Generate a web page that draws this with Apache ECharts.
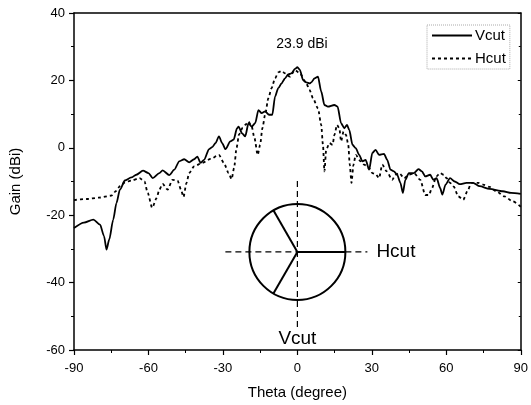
<!DOCTYPE html>
<html><head><meta charset="utf-8">
<script src="https://cdn.jsdelivr.net/npm/echarts@6/dist/echarts.min.js"></script>
<style>html,body{margin:0;padding:0;background:#fff}#c{width:531px;height:405px}</style>
</head><body><div id="c"></div>
<script>
// Theta (deg), Gain (dBi)
var vcut = [[-90,-23.8],[-86,-22.2],[-82.2,-21.3],[-79.5,-22.8],[-77.9,-26.2],[-76.9,-30.2],[-75.8,-27.2],[-74.2,-21.3],[-72.9,-16.4],[-71.5,-12.4],[-69.5,-9.7],[-66.9,-8.8],[-64.9,-8.0],[-62.2,-6.8],[-60,-7.5],[-58.3,-9.0],[-55.6,-7.5],[-54.3,-6.7],[-51.6,-8.1],[-49.6,-6.5],[-47.6,-4.0],[-45.6,-3.4],[-43.6,-4.3],[-41.6,-3.4],[-40.3,-2.6],[-39,-4.5],[-37.6,-3.6],[-35.6,-0.4],[-34.3,0.2],[-33,1.4],[-31.6,3.4],[-30.3,1.4],[-29,-0.4],[-27,1.9],[-25.7,2.4],[-24.3,5.8],[-23.7,6.3],[-22.3,4.3],[-21,3.4],[-19.7,7.3],[-18.4,6.3],[-17,7.3],[-15.7,11.2],[-14.4,10.3],[-13,10.8],[-11.4,9.8],[-10.1,9.8],[-9,15.2],[-7.7,17.7],[-6.4,19.1],[-5,20.6],[-3.7,21.8],[-2.4,22.1],[-1,23.4],[0,23.9],[1,23.1],[2.3,20.1],[3.6,19.4],[4.9,19.1],[5.6,19.4],[6.9,20.6],[8.3,21.1],[9.6,16.7],[10.9,12.7],[12.3,12.2],[14.9,12.7],[16.2,12.2],[17.6,7.3],[18.9,5.8],[20,6.8],[20.9,5.3],[22.2,0.9],[23.5,-0.1],[24.9,-2.1],[26.2,-4.0],[27.5,-3.6],[28.9,-6.5],[30.2,-1.5],[31.5,-0.6],[32.9,-2.1],[34.9,-1.8],[36.2,-3.6],[37.5,-6.5],[38.9,-7.0],[40.2,-8.0],[41.5,-10.4],[42.5,-13.4],[43.5,-9.5],[44.9,-7.5],[46.9,-7.5],[48.8,-6.3],[50.2,-7.0],[51.5,-8.5],[53.5,-8.0],[54.8,-9.5],[56.1,-9.0],[57.5,-11.9],[58.4,-13.9],[59.7,-10.9],[61.5,-9.0],[63.4,-10.0],[65.4,-10.8],[68.1,-10.4],[70.8,-10.4],[73.4,-11.4],[77.4,-12.2],[82.8,-12.9],[86.1,-13.4],[90,-13.7]];
var hcut = [[-90,-15.5],[-85,-15.2],[-80,-14.8],[-75,-14.2],[-73,-12.8],[-71.5,-11.4],[-69.5,-10.3],[-66.9,-9.7],[-63.6,-9.0],[-61.6,-10.0],[-60.3,-13.4],[-58.5,-17.8],[-56.7,-14.9],[-55.6,-12.4],[-54.3,-10.7],[-52.3,-12.4],[-50.3,-9.5],[-48.3,-9.7],[-46.9,-12.4],[-45.9,-14.6],[-44.7,-10.5],[-43.6,-7.5],[-41.6,-5.5],[-38.3,-4.5],[-35,-3.3],[-31.6,-2.1],[-29.6,-4.5],[-27.7,-7.5],[-26.5,-9.3],[-25.5,-6],[-24.5,0],[-23.5,4],[-22,6],[-21,6.8],[-19.7,7.8],[-18.4,6.3],[-17.3,2.9],[-16,-2.1],[-15,0.9],[-14.1,5.8],[-13,9.8],[-11.7,14.7],[-10.4,17.7],[-9,20.6],[-7.7,22.4],[-6.4,22.8],[-5,22.1],[-3,21.1],[-1,23.1],[1,22.1],[3.6,19.1],[4.9,17.2],[6.3,14.7],[8.3,11.7],[9.6,6.8],[10.3,0.9],[10.9,-7.0],[11.6,-0.6],[12.9,1.4],[14.2,0.9],[14.9,3.8],[16,6.8],[16.9,5.8],[17.6,1.9],[18.6,4.8],[19.6,3.8],[20.5,0.9],[21.1,-5],[21.8,-10.4],[22.6,-5],[23.5,-2.1],[25.5,-4],[26.9,-5],[28.9,-6],[30.2,-7.5],[31.5,-7.8],[32.9,-9],[34.2,-5],[36,-7],[38.2,-9.5],[39.5,-8],[41,-7.5],[43,-9],[45,-8],[47,-7.5],[49.5,-9.5],[51.5,-14],[53,-14],[54.2,-12],[56,-8.5],[57.5,-7.5],[59,-8],[60.1,-9],[61.5,-10.4],[63,-11.5],[64.8,-14.4],[66.8,-15.4],[68.8,-12.4],[70,-10.4],[72.8,-10.4],[74.8,-10.9],[77.4,-11.6],[80.1,-12.9],[83.4,-14.4],[86.8,-15.9],[90,-17.5]];
var seriesNames = ['Vcut','Hcut'];
var xRange = [-90, 90, 30];
var yRange = [-60, 40, 20];
var peakLabel = '23.9 dBi';
var xName = 'Theta (degree)';
var yName = 'Gain (dBi)';
var insetCenter = [0, -30.9];

var FONT = '"Liberation Sans", Arial, sans-serif';
var chart = echarts.init(document.getElementById('c'), null, {renderer:'canvas'});
var axisCommon = {
  axisLine:{show:true,onZero:false,lineStyle:{color:'#000',width:1.5}},
  splitLine:{show:false}
};
chart.setOption({
  animation:false,
  backgroundColor:'#fff',
  grid:{left:73,right:7,top:13,bottom:54},
  title:{text:peakLabel,left:297,top:32,textAlign:'center',textStyle:{fontFamily:FONT,fontSize:14,fontWeight:'normal',color:'#000'}},
  legend:{data:seriesNames,orient:'vertical',left:427,top:25,padding:[3,4,3,4],itemWidth:40,itemHeight:12,itemGap:8,
    borderColor:'#aaa',borderWidth:1,borderType:'dotted',
    itemStyle:{opacity:0},
    textStyle:{fontFamily:FONT,fontSize:15,color:'#000',padding:[0,0,0,-2]}},
  xAxis:[Object.assign({type:'value',min:xRange[0],max:xRange[1],interval:xRange[2],position:'bottom',
      name:xName,nameLocation:'middle',nameGap:35,nameTextStyle:{fontFamily:FONT,fontSize:15,color:'#000'},
      axisTick:{show:true,inside:false,length:5,lineStyle:{color:'#000',width:1.2}},
      minorTick:{show:true,splitNumber:2,length:3,lineStyle:{color:'#000',width:1}},
      axisLabel:{fontFamily:FONT,fontSize:13,color:'#000',margin:12}},axisCommon),
    Object.assign({type:'value',min:xRange[0],max:xRange[1],interval:xRange[2],position:'top',
      axisTick:{show:false},axisLabel:{show:false}},axisCommon)],
  yAxis:[Object.assign({type:'value',min:yRange[0],max:yRange[1],interval:yRange[2],position:'left',
      name:yName,nameLocation:'middle',nameGap:51,nameRotate:90,nameTextStyle:{fontFamily:FONT,fontSize:15,color:'#000'},
      axisTick:{show:true,inside:false,length:5,lineStyle:{color:'#000',width:1.2}},
      minorTick:{show:true,splitNumber:2,length:3,lineStyle:{color:'#000',width:1}},
      axisLabel:{fontFamily:FONT,fontSize:13,color:'#000',margin:9}},axisCommon),
    Object.assign({type:'value',min:yRange[0],max:yRange[1],interval:yRange[2],position:'right',
      axisTick:{show:true,inside:true,length:3,lineStyle:{color:'#000'}},
      minorTick:{show:true,splitNumber:2,length:2,lineStyle:{color:'#000'}},
      axisLabel:{show:false}},axisCommon)],
  series:[
    {name:seriesNames[0],type:'line',data:vcut,symbol:'none',smooth:0.25,smoothMonotone:'x',
      lineStyle:{color:'#000',width:1.8},itemStyle:{color:'#000'}},
    {name:seriesNames[1],type:'line',data:hcut,symbol:'none',smooth:0.25,smoothMonotone:'x',
      lineStyle:{color:'#000',width:1.8,type:[3,3]},itemStyle:{color:'#000'}}
  ]
});

// Inset illustration, anchored at a data position
var c = chart.convertToPixel({xAxisIndex:0,yAxisIndex:0}, insetCenter);
var cx = c[0], cy = c[1], r = 48;
var a1 = 120*Math.PI/180, a2 = 240*Math.PI/180;
var dash = {stroke:'#000',lineWidth:1.2,lineDash:[6,4]};
chart.setOption({graphic:[
  {type:'line',shape:{x1:cx-72,y1:cy,x2:cx+70,y2:cy},style:dash,z:10},
  {type:'line',shape:{x1:cx,y1:cy-71,x2:cx,y2:cy+77},style:dash,z:10},
  {type:'circle',shape:{cx:cx,cy:cy,r:r},style:{fill:null,stroke:'#000',lineWidth:2},z:11},
  {type:'line',shape:{x1:cx,y1:cy,x2:cx+r,y2:cy},style:{stroke:'#000',lineWidth:2},z:11},
  {type:'line',shape:{x1:cx,y1:cy,x2:cx+r*Math.cos(a1),y2:cy-r*Math.sin(a1)},style:{stroke:'#000',lineWidth:2},z:11},
  {type:'line',shape:{x1:cx,y1:cy,x2:cx+r*Math.cos(a2),y2:cy-r*Math.sin(a2)},style:{stroke:'#000',lineWidth:2},z:11},
  {type:'text',x:cx+79,y:cy,style:{text:seriesNames[1],font:'19px '+FONT,fill:'#000',textAlign:'left',textVerticalAlign:'middle'},z:11},
  {type:'text',x:cx,y:cy+87,style:{text:seriesNames[0],font:'19px '+FONT,fill:'#000',textAlign:'center',textVerticalAlign:'middle'},z:11}
]});
</script></body></html>
